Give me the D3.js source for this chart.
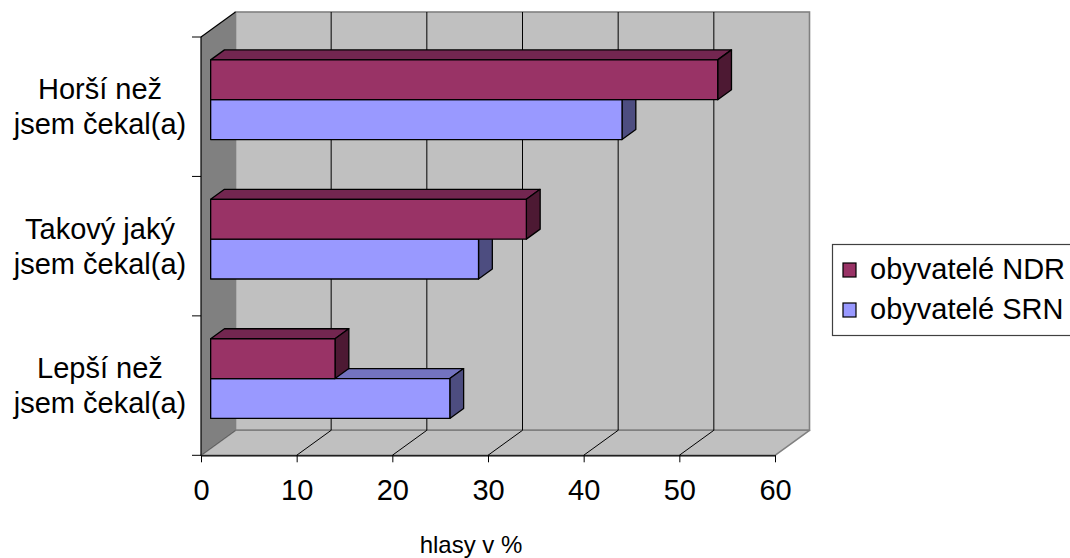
<!DOCTYPE html>
<html>
<head>
<meta charset="utf-8">
<script src="https://cdn.jsdelivr.net/npm/d3@7"></script>
<style>
  html, body { margin: 0; padding: 0; background: #ffffff; }
  svg { display: block; font-family: "Liberation Sans", Arial, sans-serif; }
</style>
</head>
<body>
<svg id="chart" width="1070" height="558"></svg>
<script>
// Categories, top to bottom, each split into its two text lines
const categories = ["Horší než jsem čekal(a)", "Takový jaký jsem čekal(a)", "Lepší než jsem čekal(a)"];
const categoryLines = [["Horší než", "jsem čekal(a)"], ["Takový jaký", "jsem čekal(a)"], ["Lepší než", "jsem čekal(a)"]];
const seriesNames = ["obyvatelé NDR", "obyvatelé SRN"];
const ndrValues = [53, 33, 13];
const srnValues = [43, 28, 25];
const xTicks = [0, 10, 20, 30, 40, 50, 60];
const axisTitle = "hlasy v %";

// Face colours per series: front, top, side
const palette = {
  "obyvatelé NDR": { front: "#993366", top: "#732650", side: "#4d1933" },
  "obyvatelé SRN": { front: "#9999ff", top: "#7373bf", side: "#4d4d80" }
};

const svg = d3.select("#chart");
const FONT = 29;

// Oblique projection: the depth vector from the front plane to the back wall
const DX = 34.5, DY = -25;
const barFront = 0.28, barBack = 0.68;   // bar depth as fractions of the depth vector

const x = d3.scaleLinear().domain([0, 60]).range([201, 775]);
const y = d3.scaleBand().domain(categories).range([37, 455.3]).padding(0);
const ys = d3.scaleBand().domain(seriesNames).range([0, y.bandwidth()])
  .paddingInner(0).paddingOuter(0.75);

const yTop = y.range()[0], yBot = y.range()[1];
const x0 = x(0), x1 = x(60);
const pts = a => a.map(p => p.join(",")).join(" ");

// Back wall
svg.append("rect")
  .attr("x", x0 + DX).attr("y", yTop + DY)
  .attr("width", x1 - x0).attr("height", yBot - yTop)
  .attr("fill", "#c0c0c0").attr("stroke", "#808080").attr("stroke-width", 1.6);

// Floor
svg.append("polygon")
  .attr("points", pts([[x0, yBot], [x1, yBot], [x1 + DX, yBot + DY], [x0 + DX, yBot + DY]]))
  .attr("fill", "#c0c0c0").attr("stroke", "#808080").attr("stroke-width", 1.6)
  .attr("stroke-linejoin", "round");

// Side wall
svg.append("polygon")
  .attr("points", pts([[x0, yTop], [x0 + DX, yTop + DY], [x0 + DX, yBot + DY], [x0, yBot]]))
  .attr("fill", "#808080");
svg.append("line")
  .attr("x1", x0).attr("y1", yTop).attr("x2", x0 + DX).attr("y2", yTop + DY)
  .attr("stroke", "#000").attr("stroke-width", 1.2);
svg.append("line")
  .attr("x1", x0).attr("y1", yBot).attr("x2", x0 + DX).attr("y2", yBot + DY)
  .attr("stroke", "#606060").attr("stroke-width", 1);

// Gridlines on the back wall and across the floor
const inner = xTicks.filter(v => v > 0 && v < 60);
svg.append("g").selectAll("line").data(inner).join("line")
  .attr("x1", d => x(d) + DX).attr("x2", d => x(d) + DX)
  .attr("y1", yTop + DY).attr("y2", yBot + DY)
  .attr("stroke", "#000").attr("stroke-width", 1);
svg.append("g").selectAll("line").data(inner).join("line")
  .attr("x1", d => x(d)).attr("y1", yBot)
  .attr("x2", d => x(d) + DX).attr("y2", yBot + DY)
  .attr("stroke", "#000").attr("stroke-width", 1);

// Bars: lower series drawn first so the upper bar sits on top of it
const rows = [];
categories.forEach((c, i) => {
  rows.push({ cat: c, series: "obyvatelé SRN", value: srnValues[i] });
  rows.push({ cat: c, series: "obyvatelé NDR", value: ndrValues[i] });
});

const bars = svg.append("g").selectAll("g").data(rows).join("g");
bars.each(function(d) {
  const g = d3.select(this);
  const fx = DX * barFront, fy = DY * barFront;
  const bx = DX * barBack, by = DY * barBack;
  const l = x(0) + fx, r = x(d.value) + fx;
  const t = y(d.cat) + ys(d.series) + fy, b = t + ys.bandwidth();
  const dx = bx - fx, dy = by - fy;
  const col = palette[d.series];
  const face = (p, fill) => g.append("polygon").attr("points", pts(p)).attr("fill", fill)
    .attr("stroke", "#000").attr("stroke-width", 1.3).attr("stroke-linejoin", "round");
  face([[l, t], [r, t], [r + dx, t + dy], [l + dx, t + dy]], col.top);
  face([[r, t], [r + dx, t + dy], [r + dx, b + dy], [r, b]], col.side);
  face([[l, t], [r, t], [r, b], [l, b]], col.front);
});

// Value axis along the front edge of the floor
const xAxis = svg.append("g")
  .attr("transform", `translate(0,${yBot})`)
  .call(d3.axisBottom(x).tickValues(xTicks).tickSize(7).tickPadding(17).tickSizeOuter(0));
xAxis.select(".domain").attr("stroke", "#000").attr("stroke-width", 1.2);
xAxis.selectAll(".tick line").attr("stroke", "#000");
xAxis.selectAll(".tick text")
  .attr("font-size", FONT).attr("fill", "#000")
  .attr("font-family", "'Liberation Sans', Arial, sans-serif");

// Category axis on the front left edge
svg.append("line")
  .attr("x1", x0).attr("x2", x0).attr("y1", yTop).attr("y2", yBot)
  .attr("stroke", "#000").attr("stroke-width", 1.2);
const bounds = categories.map(c => y(c)).concat([yBot]);
svg.append("g").selectAll("line").data(bounds).join("line")
  .attr("x1", x0 - 9).attr("x2", x0).attr("y1", d => d).attr("y2", d => d)
  .attr("stroke", "#000").attr("stroke-width", 1);

// Category labels, two lines centred on each band
const labels = svg.append("g").selectAll("text").data(categories).join("text")
  .attr("text-anchor", "middle")
  .attr("font-size", FONT)
  .attr("fill", "#000")
  .attr("y", d => y(d) + y.bandwidth() / 2);
labels.each(function(d, i) {
  const t = d3.select(this);
  categoryLines[i].forEach((line, k) => {
    t.append("tspan").attr("x", 100)
      .attr("dy", k === 0 ? "-0.25em" : "1.2em")
      .text(line);
  });
});

// Axis title
svg.append("text")
  .attr("x", 471).attr("y", 553)
  .attr("text-anchor", "middle")
  .attr("font-size", 24).attr("fill", "#000")
  .text(axisTitle);

// Legend
const legend = svg.append("g");
legend.append("rect")
  .attr("x", 832.5).attr("y", 244.5).attr("width", 260).attr("height", 91)
  .attr("fill", "#fff").attr("stroke", "#404040").attr("stroke-width", 1.2);
const items = legend.selectAll("g.item").data(seriesNames).join("g")
  .attr("class", "item")
  .attr("transform", (d, i) => `translate(0,${i * 40})`);
items.append("rect")
  .attr("x", 843).attr("y", 263).attr("width", 13).attr("height", 14)
  .attr("fill", d => palette[d].front).attr("stroke", "#000").attr("stroke-width", 1.2);
items.append("text")
  .attr("x", 870).attr("y", 279)
  .attr("font-size", FONT).attr("fill", "#000")
  .text(d => d);
</script>
</body>
</html>
